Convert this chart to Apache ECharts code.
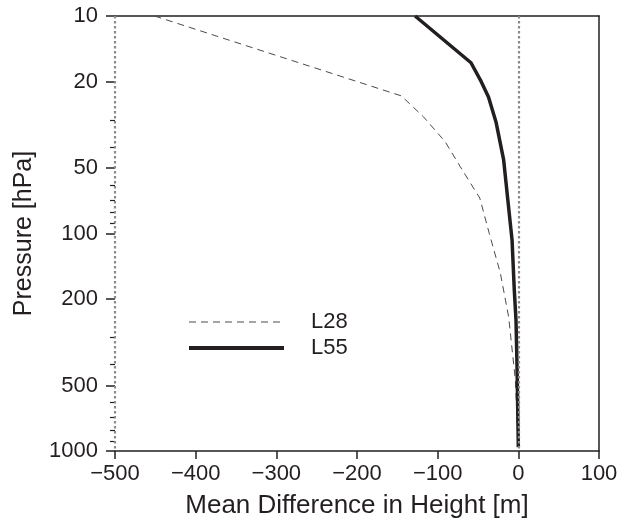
<!DOCTYPE html>
<html>
<head>
<meta charset="utf-8">
<script src="https://cdn.jsdelivr.net/npm/echarts@6/dist/echarts.min.js"></script>
<style>
  html, body { margin: 0; padding: 0; background: #fff; }
  #chart { width: 628px; height: 524px; }
</style>
</head>
<body>
<div id="chart"></div>
<script>
// pressure levels [hPa] and mean height difference [m]
const levelsL28 = [10, 23.3, 29.1, 37.9, 49.3, 68.7, 100, 152, 242, 472, 960];
const diffL28 = [-451, -145, -117.5, -90.6, -72, -47.8, -36, -22.3, -12, -3.7, 0];
const levelsL55 = [10, 16.4, 19.7, 23.6, 30.7, 45.9, 70.2, 107, 182, 250, 411, 960];
const diffL55 = [-128, -58.7, -47, -37, -27.7, -18.2, -13, -7.8, -5, -2.9, -1.6, 0];

const majorTicks = [10, 20, 50, 100, 200, 500, 1000];
const minorTicks = [30, 40, 60, 70, 80, 90, 300, 400, 600, 700, 800, 900];
const refLines = [0, -500];

const FONT = "'Liberation Sans', Arial, Helvetica, sans-serif";
const INK = '#231f20';

const chart = echarts.init(document.getElementById('chart'));

const pairs = (xs, ys) => xs.map((x, i) => [x, ys[i]]);

const option = {
  backgroundColor: '#fff',
  animation: false,
  textStyle: { fontFamily: FONT, color: INK },
  grid: { left: 115, right: 29, top: 16, bottom: 73, containLabel: false },
  legend: {
    orient: 'vertical',
    left: 187,
    top: 311,
    padding: 0,
    itemWidth: 95,
    itemHeight: 14,
    itemGap: 4,
    selectedMode: false,
    itemStyle: { opacity: 0 },
    textStyle: { fontSize: 22, color: INK, fontFamily: FONT, padding: [0, 0, 0, 22] },
    data: [
      { name: 'L28', lineStyle: { width: 1, color: '#4a4a4a', type: [7, 5] } },
      { name: 'L55', lineStyle: { width: 4, color: INK } }
    ]
  },
  xAxis: [
    {
      type: 'value',
      min: -500,
      max: 100,
      interval: 100,
      position: 'bottom',
      name: 'Mean Difference in Height [m]',
      nameLocation: 'middle',
      nameGap: 42,
      nameTextStyle: { fontSize: 26, color: INK, fontFamily: FONT },
      axisLine: { show: true, onZero: false, lineStyle: { color: INK, width: 1.5 } },
      axisTick: { show: true, inside: false, length: 8, lineStyle: { color: INK, width: 1.5 } },
      axisLabel: {
        fontSize: 22, color: INK, margin: 12, fontFamily: FONT,
        formatter: v => (v < 0 ? '\u2212' + Math.abs(v) : String(v))
      },
      splitLine: { show: false }
    },
    {
      type: 'value',
      min: -500,
      max: 100,
      position: 'top',
      axisLine: { show: true, onZero: false, lineStyle: { color: INK, width: 1.5 } },
      axisTick: { show: false },
      axisLabel: { show: false },
      splitLine: { show: false }
    }
  ],
  yAxis: [
    {
      type: 'log',
      logBase: 10,
      min: 10,
      max: 1000,
      inverse: true,
      position: 'left',
      name: 'Pressure [hPa]',
      nameLocation: 'middle',
      nameGap: 78,
      nameTextStyle: { fontSize: 25, color: INK, fontFamily: FONT },
      axisLine: { show: false, onZero: false },
      axisTick: { show: true, length: 9, customValues: majorTicks, lineStyle: { color: INK, width: 1.5 } },
      axisLabel: {
        fontSize: 22, color: INK, margin: 17, fontFamily: FONT,
        customValues: majorTicks,
        formatter: v => String(v)
      },
      splitLine: { show: false }
    },
    {
      type: 'log',
      logBase: 10,
      min: 10,
      max: 1000,
      inverse: true,
      position: 'left',
      axisLine: { show: false, onZero: false },
      axisTick: { show: true, length: 5, customValues: minorTicks, lineStyle: { color: INK, width: 1.2 } },
      axisLabel: { show: false },
      splitLine: { show: false }
    },
    {
      type: 'value',
      position: 'right',
      min: 0,
      max: 1,
      axisLine: { show: true, onZero: false, lineStyle: { color: INK, width: 1.5 } },
      axisTick: { show: false },
      axisLabel: { show: false },
      splitLine: { show: false }
    }
  ],
  series: [
    {
      name: 'L28',
      type: 'line',
      xAxisIndex: 0,
      yAxisIndex: 0,
      symbol: 'none',
      silent: true,
      lineStyle: { color: '#4a4a4a', width: 1, type: [7, 5] },
      itemStyle: { color: '#4a4a4a' },
      data: pairs(diffL28, levelsL28),
      markLine: {
        symbol: 'none',
        silent: true,
        label: { show: false },
        lineStyle: { color: '#8a8a8a', width: 2.2, type: [2.5, 2.5] },
        data: refLines.map(v => ({ xAxis: v }))
      },
      z: 3
    },
    {
      name: 'L55',
      type: 'line',
      xAxisIndex: 0,
      yAxisIndex: 0,
      symbol: 'none',
      silent: true,
      lineStyle: { color: INK, width: 3.5 },
      itemStyle: { color: INK },
      data: pairs(diffL55, levelsL55),
      z: 4
    }
  ]
};

chart.setOption(option);
</script>
</body>
</html>
